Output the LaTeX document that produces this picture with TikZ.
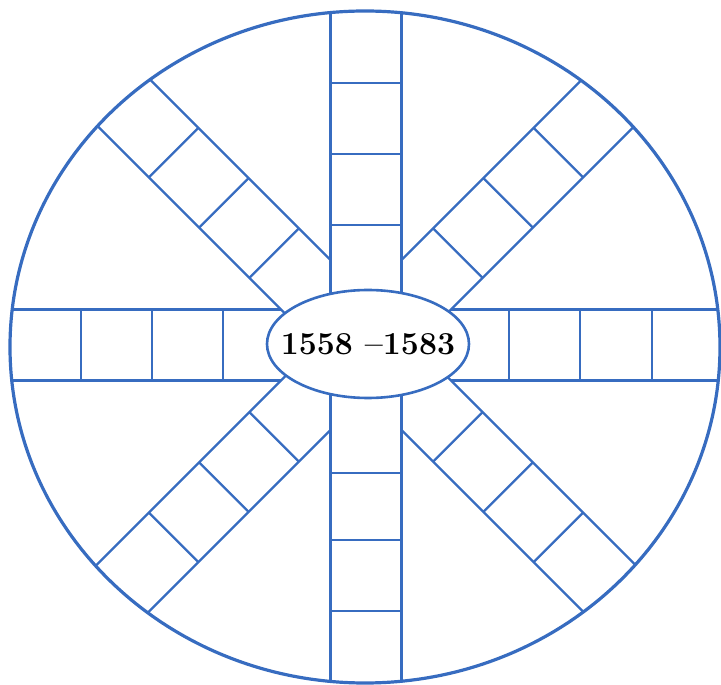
\documentclass[tikz,border=0pt]{standalone}
\usepackage{tikz}
\usetikzlibrary{shapes.geometric}

\definecolor{wheelblue}{RGB}{55,108,192}

\begin{document}
\begin{tikzpicture}[x=1pt, y=1pt,
  rim/.style={draw=wheelblue, line width=3.2pt},
  strip/.style={draw=wheelblue, line width=2.3pt},
  hub/.style={ellipse, draw=wheelblue, line width=2.6pt, fill=white,
              minimum width=202pt, minimum height=108pt, inner sep=0pt},
  years/.style={font=\fontsize{32}{38}\selectfont\bfseries, inner sep=0pt},
]

\useasboundingbox (-366,-340) rectangle (355,345);

% Strips of cells, cut off at the rim
\begin{scope}
  \clip (-1,-2) ellipse [x radius=355, y radius=336];

  % Right
  \begin{scope}[rotate=0]
    \draw[strip] (85,35.5) -- (400,35.5) (85,-35.5) -- (400,-35.5);
    \draw[strip] (143,-35.5) -- (143,35.5) (214,-35.5) -- (214,35.5) (286,-35.5) -- (286,35.5);
  \end{scope}

  % Left
  \begin{scope}[rotate=180]
    \draw[strip] (85,35.5) -- (400,35.5) (85,-35.5) -- (400,-35.5);
    \draw[strip] (143,-35.5) -- (143,35.5) (214,-35.5) -- (214,35.5) (285,-35.5) -- (285,35.5);
  \end{scope}

  % Top
  \begin{scope}[rotate=90]
    \draw[strip] (0,35.5) -- (400,35.5) (0,-35.5) -- (400,-35.5);
    \draw[strip] (120,-35.5) -- (120,35.5) (191,-35.5) -- (191,35.5) (262,-35.5) -- (262,35.5);
  \end{scope}

  % Bottom
  \begin{scope}[rotate=270]
    \draw[strip] (0,35.5) -- (400,35.5) (0,-35.5) -- (400,-35.5);
    \draw[strip] (128,-35.5) -- (128,35.5) (195,-35.5) -- (195,35.5) (266,-35.5) -- (266,35.5);
  \end{scope}

  % Diagonals
  \begin{scope}[rotate=45]
    \draw[strip] (85.2,35) -- (400,35) (0,-35) -- (400,-35);
    \draw[strip] (130,-35) -- (130,35) (201,-35) -- (201,35) (272,-35) -- (272,35);
  \end{scope}
  \begin{scope}[rotate=135]
    \draw[strip] (0,35) -- (400,35) (85.2,-35) -- (400,-35);
    \draw[strip] (130,-35) -- (130,35) (201,-35) -- (201,35) (272,-35) -- (272,35);
  \end{scope}
  \begin{scope}[rotate=225]
    \draw[strip] (85.2,35) -- (400,35) (0,-35) -- (400,-35);
    \draw[strip] (130,-35) -- (130,35) (201,-35) -- (201,35) (272,-35) -- (272,35);
  \end{scope}
  \begin{scope}[rotate=315]
    \draw[strip] (0,35) -- (400,35) (85.2,-35) -- (400,-35);
    \draw[strip] (130,-35) -- (130,35) (201,-35) -- (201,35) (272,-35) -- (272,35);
  \end{scope}
\end{scope}

% Rim
\draw[rim] (-1,-2) ellipse [x radius=355, y radius=336];

% Centre
\node[hub] (hub) at (2,1) {};
\node[years] (dates) at (hub.center) {1558 --1583};

\end{tikzpicture}
\end{document}
